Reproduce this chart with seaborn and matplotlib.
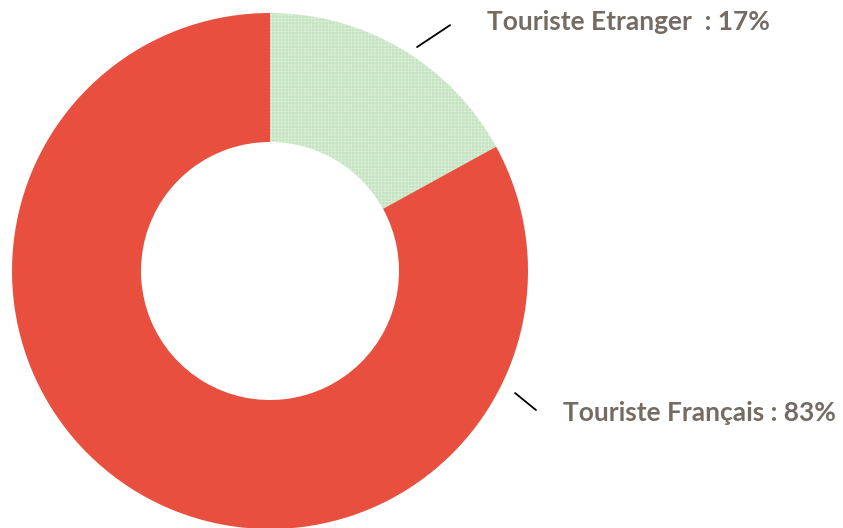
import numpy as np
import matplotlib
matplotlib.use("Agg")
import matplotlib.pyplot as plt
import seaborn as sns

# data
labels = ["Touriste Etranger  ", "Touriste Français "]
shares = [17, 83]
colors = ["#c4e4c1", "#e84f3e"]

sns.set_theme(style="white")
plt.rcParams["font.family"] = ["Lato", "DejaVu Sans"]
plt.rcParams["hatch.linewidth"] = 0.5

fig = plt.figure(figsize=(8.43, 5.28), dpi=100)
W, H = 843, 528
cx, cy, r = 270, 271, 258  # donut centre / radius in pixels
ax = fig.add_axes([(cx - r) / W, (H - cy - r) / H, 2 * r / W, 2 * r / H])

wedges, _ = ax.pie(shares, colors=colors, startangle=90, counterclock=False,
                   radius=1, wedgeprops=dict(width=0.5, linewidth=0))
# fine dotted texture on the green slice
wedges[0].set_hatch("+++++")
wedges[0].set_edgecolor("#dcefda")
wedges[0].set_linewidth(0)

ax.set_xlim(-1, 1)
ax.set_ylim(-1, 1)
ax.set_aspect("equal")
ax.axis("off")

# leader lines (start, end in axes data units) and label anchors
leaders = [((0.570, 0.868), (0.698, 0.953)), ((0.950, -0.473), (1.031, -0.539))]
text_pos = [(0.84, 0.965), (1.135, -0.55)]
for lab, val, (p0, p1), (tx, ty) in zip(labels, shares, leaders, text_pos):
    ax.plot([p0[0], p1[0]], [p0[1], p1[1]], color="black", lw=1.3, clip_on=False)
    ax.text(tx, ty, f"{lab}: {val}%", ha="left", va="center", fontsize=19,
            fontweight="bold", color="#746b63", clip_on=False)

fig.savefig("out.png", dpi=100)
